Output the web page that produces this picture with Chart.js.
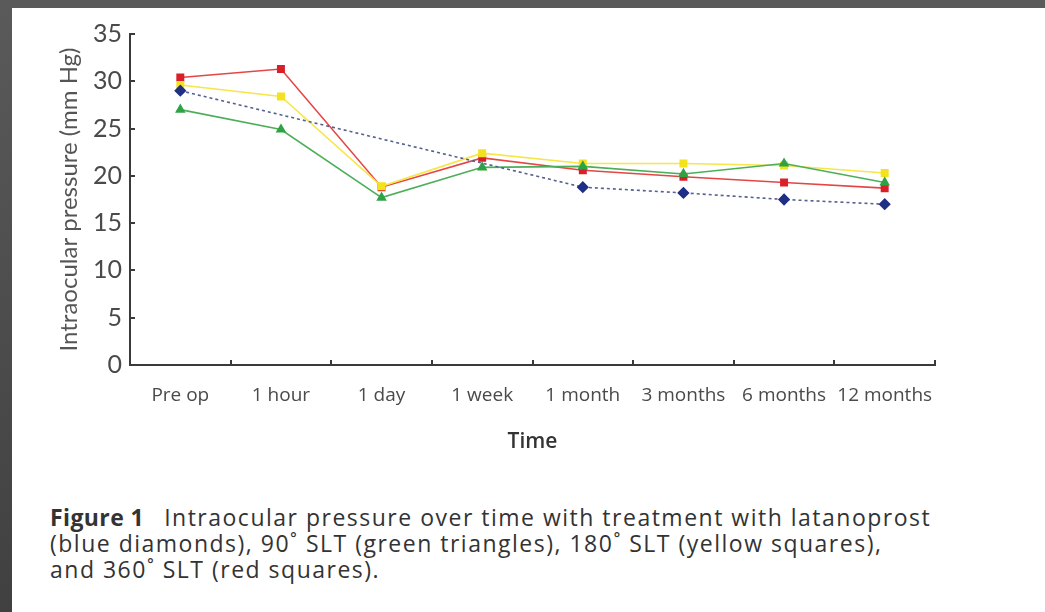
<!DOCTYPE html>
<html>
<head>
<meta charset="utf-8">
<script src="https://cdn.jsdelivr.net/npm/chart.js@4"></script>
<style>
  html, body { margin: 0; padding: 0; }
  body { width: 1045px; height: 612px; position: relative; overflow: hidden;
         background: linear-gradient(#5a5a5a, #404040); }
  #sheet { position: absolute; left: 12px; top: 8px; right: 0; bottom: 0; background: #ffffff; }
  #wrap { position: absolute; left: 0; top: 0; width: 1033px; height: 460px; }
  #caption { position: absolute; left: 38px; top: 496px; width: 1000px;
             font-family: "Open Sans", "Lato", sans-serif; font-size: 23px; line-height: 26px;
             color: #333; letter-spacing: 1.5px; white-space: nowrap; }
  #caption b { font-weight: 700; margin-right: 20px; letter-spacing: 0.4px; }
</style>
</head>
<body>
<div id="sheet">
  <div id="wrap"><canvas id="c" width="1033" height="460"></canvas></div>
  <div id="caption"><b>Figure 1</b>Intraocular pressure over time with treatment with latanoprost<br>(blue diamonds), 90˚ SLT (green triangles), 180˚ SLT (yellow squares),<br>and 360˚ SLT (red squares).</div>
</div>
<script>
// Time points and mean IOP (mm Hg) for each treatment group
const timePoints = ["Pre op", "1 hour", "1 day", "1 week", "1 month", "3 months", "6 months", "12 months"];
const latanoprost = [29.0, null, null, null, 18.8, 18.2, 17.5, 17.0];
const slt90  = [27.0, 24.9, 17.7, 20.9, 21.0, 20.2, 21.3, 19.3];
const slt180 = [29.6, 28.4, 18.9, 22.4, 21.3, 21.3, 21.1, 20.3];
const slt360 = [30.4, 31.3, 18.8, 21.9, 20.6, 19.9, 19.3, 18.7];
const yTicks = [0, 5, 10, 15, 20, 25, 30, 35];

const axisColor = "#3a3a3a";
const textColor = "#4a4a4a";

// Short tick marks pointing into the plot area
const innerTicks = {
  id: "innerTicks",
  afterDraw(chart) {
    const { ctx } = chart;
    const x = chart.scales.x, y = chart.scales.y;
    ctx.save();
    ctx.strokeStyle = axisColor;
    ctx.lineWidth = 2;
    ctx.beginPath();
    for (let i = 0; i <= timePoints.length; i++) {
      const px = Math.round(x.getPixelForValue(i - 0.5));
      ctx.moveTo(px, x.top);
      ctx.lineTo(px, x.top - 5);
    }
    yTicks.forEach(v => {
      const py = Math.round(y.getPixelForValue(v));
      ctx.moveTo(y.right, py);
      ctx.lineTo(y.right + 5, py);
    });
    ctx.stroke();
    ctx.restore();
  }
};

new Chart(document.getElementById("c"), {
  type: "line",
  data: {
    labels: timePoints,
    datasets: [
      { label: "Latanoprost", data: latanoprost, spanGaps: true,
        borderColor: "#56608f", borderWidth: 1.6, borderDash: [3, 3],
        pointStyle: "rectRot", pointRadius: 5, pointBackgroundColor: "#1f2f86", pointBorderColor: "#1f2f86" },
      { label: "90° SLT", data: slt90,
        borderColor: "#4caf58", borderWidth: 1.6,
        pointStyle: "triangle", pointRadius: 4.5, pointBackgroundColor: "#2fa344", pointBorderColor: "#2fa344" },
      { label: "180° SLT", data: slt180,
        borderColor: "#f6e64a", borderWidth: 1.6,
        pointStyle: "rect", pointRadius: 4.5, pointBackgroundColor: "#f4e21c", pointBorderColor: "#f4e21c" },
      { label: "360° SLT", data: slt360,
        borderColor: "#e54545", borderWidth: 1.6,
        pointStyle: "rect", pointRadius: 4.5, pointBackgroundColor: "#d9202a", pointBorderColor: "#d9202a" }
    ]
  },
  options: {
    responsive: false,
    animation: false,
    layout: { padding: { top: 26, right: 110, left: 43, bottom: 13 } },
    plugins: { legend: { display: false }, tooltip: { enabled: false } },
    elements: { line: { tension: 0 } },
    scales: {
      x: {
        type: "category",
        offset: true,
        grid: { display: false, offset: true },
        border: { display: true, color: axisColor, width: 2 },
        ticks: { color: textColor, padding: 11, maxRotation: 0, autoSkip: false,
                 font: { family: "Open Sans", size: 19 } },
        title: { display: true, text: "Time", color: "#333",
                 font: { family: "Open Sans", size: 21, weight: "600" }, padding: { top: 0, bottom: 0 } },
        afterFit(s) { s.height = 90; }
      },
      y: {
        min: 0, max: 35,
        afterBuildTicks(s) { s.ticks = yTicks.map(v => ({ value: v })); },
        grid: { display: false },
        border: { display: true, color: axisColor, width: 2 },
        ticks: { color: textColor, padding: 0, font: { family: "Lato", size: 25 } },
        title: { display: true, text: "Intraocular pressure (mm Hg)", color: "#555",
                 font: { family: "Lato", size: 24 }, padding: { top: 0, bottom: 0 } },
        afterFit(s) { s.width = 75; }
      }
    }
  },
  plugins: [innerTicks]
});
</script>
</body>
</html>
